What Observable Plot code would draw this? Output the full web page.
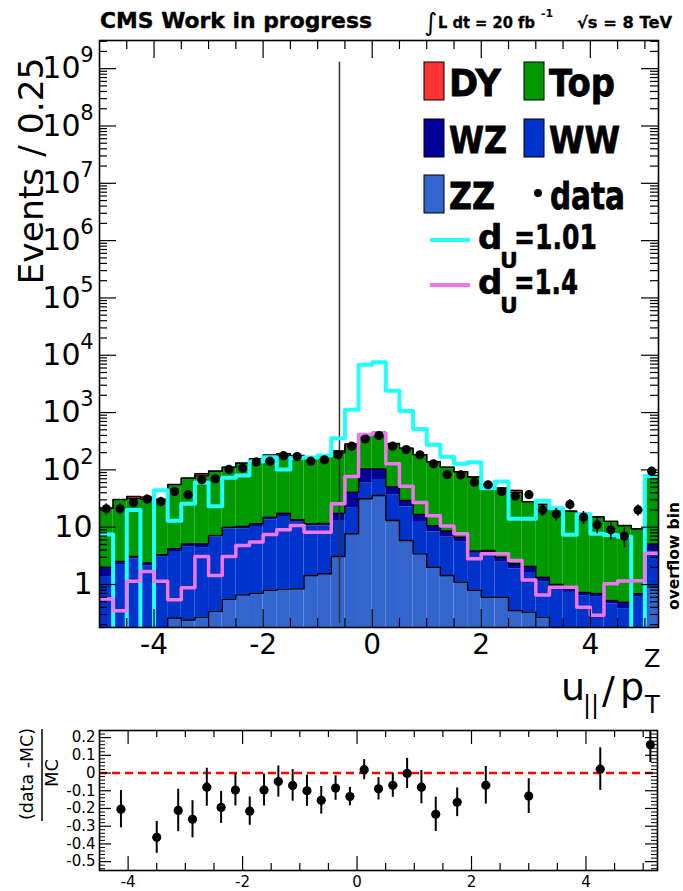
<!DOCTYPE html>
<html>
<head>
<meta charset="utf-8">
<script src="https://cdn.jsdelivr.net/npm/d3@7"></script>
<script src="https://cdn.jsdelivr.net/npm/@observablehq/plot@0.6"></script>
<style>
html,body{margin:0;padding:0;background:#fff;}
#chart{width:683px;height:891px;overflow:hidden;position:relative;}
#chart svg{display:block;}
</style>
</head>
<body>
<div id="chart"></div>
<script>
// ---------- data ----------
const binLow = [-5,-4.75,-4.5,-4.25,-4,-3.75,-3.5,-3.25,-3,-2.75,-2.5,-2.25,-2,-1.75,-1.5,-1.25,-1,-0.75,-0.5,-0.25,0,0.25,0.5,0.75,1,1.25,1.5,1.75,2,2.25,2.5,2.75,3,3.25,3.5,3.75,4,4.25,4.5,4.75,5];
const binWidth = 0.25;
const zz     = [0,0,0,0,0,0.26,0.24,0.27,0.34,0.55,0.66,0.70,0.79,0.83,0.84,1.44,1.54,3.08,7.67,31.3,35.7,13.1,5.86,3.43,2.0,1.44,1.1,0.79,0.6,0.6,0.35,0.33,0.27,0,0,0,0,0,0,0,0.9];
const ww     = [1.38,2.23,2.81,2.09,3.0,3.51,4.24,4.03,6.36,8.85,8.74,9.6,12.71,14.57,11.36,9.06,8.96,10.02,14.33,27.3,32.3,23.9,16.74,9.17,6.3,5.26,4.37,2.71,2.83,1.85,1.53,1.24,0.83,0.9,0.73,0.64,0.6,0.46,0.38,0.6,3.02];
const wz     = [0.62,0.29,0.27,0.30,0.3,0.43,0.65,0.83,0.5,0.6,0.9,1.2,1.5,2.1,1.3,0.9,1.1,4.5,19,45.4,36,13.5,6.6,4.1,2.3,1.9,1.23,0.36,0.49,0.55,0.42,0.49,0.24,0.1,0.11,0.09,0.1,0.07,0.11,0.09,1.18];
const topBkg = [19.5,27.9,28.6,28.4,27.1,51.4,66.5,73.8,87.7,101,120.7,144.5,166,158.8,164.5,156.6,170.4,179.9,220.2,323,346,237.5,208.8,168.3,128.4,102.4,86.3,71.1,52.1,45,38.3,25.9,23.7,20,18.2,16.6,14.5,12.1,10.2,8.7,74.9];
const dyBkg  = [0,0,2.6,2.6,0,0,0,6.6,0,0,0,0,0,14.7,0,0,0,16.5,21.8,0,0,0,0,0,0,0,0,0,0,0,3.4,0,0,0,0,0,0,0,0,0,0];
const dataN  = [21,21,27,31,28,42,37,67,70,102,107,138,142,177,171,142,150,184,259,345,398,259,226,183,128,83,82,61,55,42,35,37,20,17,25,15,11,9,7,20,95];
const sigDU101 = [7.5,0,20,0,44,13,25.6,60,23.3,73,80,140,167,102,163,165,178,355,1119,6830,7580,2400,1070,515,275,170,128,136,48,63,14,14,29,21.5,7.4,16.8,7.7,7.3,6.8,0,78];
const sigDU14  = [0.56,0.35,1.14,1.69,1.14,0.54,0.88,3.08,1.44,3.08,4.8,5.5,7.5,9.0,10.7,8.2,8.2,25.6,77,415,437,128,52,27,15.8,10.5,7.67,2.81,3.45,3.45,2.62,1.2,0.66,0.9,0.9,0.4,0.29,1.03,1.15,1.16,3.5];
const cutValue = -0.6;

const ratioX   = [-4.125,-3.5,-3.125,-2.875,-2.625,-2.375,-2.125,-1.875,-1.625,-1.375,-1.125,-0.875,-0.625,-0.375,-0.125,0.125,0.375,0.625,0.875,1.125,1.375,1.75,2.25,3.0,4.25,5.125];
const ratioY   = [-0.204,-0.363,-0.211,-0.261,-0.08,-0.194,-0.096,-0.215,-0.096,-0.048,-0.07,-0.10,-0.154,-0.085,-0.133,0.019,-0.089,-0.069,-0.002,-0.08,-0.233,-0.165,-0.069,-0.13,0.022,0.159];
const ratioErr = [0.105,0.09,0.12,0.105,0.107,0.09,0.09,0.08,0.09,0.088,0.089,0.088,0.078,0.069,0.052,0.057,0.063,0.068,0.085,0.094,0.097,0.081,0.106,0.098,0.12,0.10];

const xTickValues = [-4,-2,0,2,4];
const xTickLabels = ["-4","-2","0","2","4"];
const yTickValues = [1,10,1e2,1e3,1e4,1e5,1e6,1e7,1e8,1e9];
const yTickBase   = ["1","10","10","10","10","10","10","10","10","10"];
const yTickExp    = ["","","2","3","4","5","6","7","8","9"];
const rTickValues = [0.2,0.1,0,-0.1,-0.2,-0.3,-0.4,-0.5];
const rTickLabels = ["0.2","0.1","0","-0.1","-0.2","-0.3","-0.4","-0.5"];

const names  = ["DY","Top","WZ","WW","ZZ"];
const colors = {DY:"#ff3333", Top:"#009900", WZ:"#000099", WW:"#0033cc", ZZ:"#3366cc", sig1:"#22ffff", sig2:"#ee77ee"};

// ---------- helpers ----------
const FONT = "DejaVu Sans";
const FLOOR = 0.01;
const cum1 = zz.slice();
const cum2 = cum1.map((v,i)=>v+ww[i]);
const cum3 = cum2.map((v,i)=>v+wz[i]);
const cum4 = cum3.map((v,i)=>v+topBkg[i]);
const cum5 = cum4.map((v,i)=>v+dyBkg[i]);
const layers = [
  {lower: null, upper: cum1, fill: colors.ZZ},
  {lower: cum1, upper: cum2, fill: colors.WW},
  {lower: cum2, upper: cum3, fill: colors.WZ},
  {lower: cum3, upper: cum4, fill: colors.Top},
  {lower: cum4, upper: cum5, fill: colors.DY}
];
const rects = [];
layers.forEach(L => binLow.forEach((lo,i) => {
  const a = L.lower ? Math.max(L.lower[i], FLOOR) : FLOOR;
  const b = L.upper[i];
  if (b > a) rects.push({x1: lo, x2: lo + binWidth, y1: a, y2: b, fill: L.fill});
}));
function stepPts(vals){
  const p = [];
  vals.forEach((v,i) => { const y = Math.max(v, FLOOR); p.push({x: binLow[i], y}); p.push({x: binLow[i] + binWidth, y}); });
  return p;
}
const dataPts = dataN.map((n,i) => ({x: binLow[i] + binWidth/2, n, lo: n - Math.sqrt(n), hi: n + Math.sqrt(n)}));

const mainW = 683, mainH = 700, mL = 99, mR = 25, mT = 40, mB = 73;
const frameH = mainH - mT - mB;
const frameW = mainW - mL - mR;
const yMinor = [];
for (let e = -1; e <= 9; e++) for (let k = 2; k <= 9; k++) { const v = k * Math.pow(10, e); if (v > 0.178 && v < 3.1e9) yMinor.push(v); }
const xMinor = [-4.5,-3.5,-3,-2.5,-1.5,-1,-0.5,0.5,1,1.5,2.5,3,3.5,4.5,5];

const mainPlot = Plot.plot({
  width: mainW, height: mainH,
  marginLeft: mL, marginRight: mR, marginTop: mT, marginBottom: mB,
  style: {fontFamily: FONT, background: "white", overflow: "visible"},
  x: {domain: [-5, 5.25], axis: null},
  y: {type: "log", domain: [0.178, 3.1e9], axis: null},
  marks: [
    Plot.rect(rects, {x1: "x1", x2: "x2", y1: "y1", y2: "y2", fill: d => d.fill, clip: true}),
    Plot.line(stepPts(cum1), {x: "x", y: "y", stroke: "black", strokeWidth: 1.4, clip: true}),
    Plot.line(stepPts(cum3), {x: "x", y: "y", stroke: "black", strokeWidth: 1.4, clip: true}),
    Plot.line(stepPts(cum4), {x: "x", y: "y", stroke: "black", strokeWidth: 1.2, clip: true}),
    Plot.line(stepPts(cum5), {x: "x", y: "y", stroke: "black", strokeWidth: 1.4, clip: true}),
    Plot.ruleX([cutValue], {x: d => d, y1: 0.21, y2: 1.3e9, stroke: "#333", strokeWidth: 1.5}),
    Plot.line(stepPts(sigDU101), {x: "x", y: "y", stroke: colors.sig1, strokeWidth: 4, clip: true}),
    Plot.line(stepPts(sigDU14), {x: "x", y: "y", stroke: colors.sig2, strokeWidth: 3.5, clip: true}),
    Plot.ruleX(dataPts, {x: "x", y1: "lo", y2: "hi", stroke: "black", strokeWidth: 1.5, clip: true}),
    Plot.dot(dataPts, {x: "x", y: "n", r: 4.6, fill: "black", stroke: null, clip: true}),
    // ticks
    Plot.tickX(xTickValues, {x: d => d, insetTop: frameH - 18, stroke: "black", strokeWidth: 1.2}),
    Plot.tickX(xTickValues, {x: d => d, insetBottom: frameH - 18, stroke: "black", strokeWidth: 1.2}),
    Plot.tickX(xMinor, {x: d => d, insetTop: frameH - 9, stroke: "black", strokeWidth: 1.2}),
    Plot.tickX(xMinor, {x: d => d, insetBottom: frameH - 9, stroke: "black", strokeWidth: 1.2}),
    Plot.tickY(yTickValues, {y: d => d, insetRight: frameW - 17, stroke: "black", strokeWidth: 1.2}),
    Plot.tickY(yTickValues, {y: d => d, insetLeft: frameW - 17, stroke: "black", strokeWidth: 1.2}),
    Plot.tickY(yMinor, {y: d => d, insetRight: frameW - 8, stroke: "black", strokeWidth: 1.2}),
    Plot.tickY(yMinor, {y: d => d, insetLeft: frameW - 8, stroke: "black", strokeWidth: 1.2}),
    Plot.frame({stroke: "black", strokeWidth: 1.6}),
    // tick labels
    Plot.text(xTickValues, {x: d => d, y: 0.178, text: (d,i) => xTickLabels[i], dy: 18, lineAnchor: "middle", fontSize: 28, fill: "black"}),
    Plot.text(yTickValues.slice(0,2), {x: -5, y: d => d, text: (d,i) => yTickBase[i], textAnchor: "end", dx: -7, lineAnchor: "middle", fontSize: 30, fill: "black"}),
    Plot.text(yTickValues.slice(2), {x: -5, y: d => d, text: (d,i) => yTickBase[i+2], textAnchor: "end", dx: -19, lineAnchor: "middle", fontSize: 30, fill: "black"}),
    Plot.text(yTickValues.slice(2), {x: -5, y: d => d, text: (d,i) => yTickExp[i+2], textAnchor: "end", dx: -6, dy: -13, lineAnchor: "middle", fontSize: 21, fill: "black"})
  ]
});

const rW = 683, rH = 191, rL = 99, rR = 26, rT = 30, rB = 21;
const rFrameH = rH - rT - rB, rFrameW = rW - rL - rR;
const rYMinor = d3.range(-0.54, 0.2401, 0.02).map(v => Math.round(v*100)/100).filter(v => Math.abs(Math.round(v*10) - v*10) > 1e-6);
const rXMinor = [-4.5,-3.5,-3,-2.5,-1.5,-1,-0.5,0.5,1,1.5,2.5,3,3.5,4.5,5];
const rIdx = ratioX.map((d,i) => i);

const ratioPlot = Plot.plot({
  width: rW, height: rH,
  marginLeft: rL, marginRight: rR, marginTop: rT, marginBottom: rB,
  style: {fontFamily: FONT, background: "white", overflow: "visible"},
  x: {domain: [-4.5, 5.25], axis: null},
  y: {domain: [-0.55, 0.24], axis: null},
  marks: [
    Plot.ruleY([0], {stroke: "#ff0000", strokeWidth: 2.5, strokeDasharray: "8,5"}),
    Plot.ruleX(rIdx, {x: i => ratioX[i], y1: i => ratioY[i] - ratioErr[i], y2: i => ratioY[i] + ratioErr[i], stroke: "black", strokeWidth: 2, clip: true}),
    Plot.dot(rIdx, {x: i => ratioX[i], y: i => ratioY[i], r: 4.6, fill: "black", stroke: null, clip: true}),
    Plot.tickX(xTickValues, {x: d => d, insetTop: rFrameH - 14, stroke: "black", strokeWidth: 1.2}),
    Plot.tickX(xTickValues, {x: d => d, insetBottom: rFrameH - 14, stroke: "black", strokeWidth: 1.2}),
    Plot.tickX(rXMinor, {x: d => d, insetTop: rFrameH - 7, stroke: "black", strokeWidth: 1.2}),
    Plot.tickX(rXMinor, {x: d => d, insetBottom: rFrameH - 7, stroke: "black", strokeWidth: 1.2}),
    Plot.tickY(rTickValues, {y: d => d, insetRight: rFrameW - 12, stroke: "black", strokeWidth: 1.2}),
    Plot.tickY(rTickValues, {y: d => d, insetLeft: rFrameW - 12, stroke: "black", strokeWidth: 1.2}),
    Plot.tickY(rYMinor, {y: d => d, insetRight: rFrameW - 6, stroke: "black", strokeWidth: 1}),
    Plot.tickY(rYMinor, {y: d => d, insetLeft: rFrameW - 6, stroke: "black", strokeWidth: 1}),
    Plot.frame({stroke: "black", strokeWidth: 1.6}),
    Plot.text(xTickValues, {x: d => d, y: -0.55, text: (d,i) => xTickLabels[i], dy: 12, lineAnchor: "middle", fontSize: 15, fill: "black"}),
    Plot.text(rTickValues, {x: -4.5, y: d => d, text: (d,i) => rTickLabels[i], textAnchor: "end", dx: -4, lineAnchor: "middle", fontSize: 15, fill: "black"})
  ]
});

const chart = document.getElementById("chart");
chart.appendChild(mainPlot);
chart.appendChild(ratioPlot);

function addText(svg, o){
  const t = d3.select(svg).append("text")
    .attr("x", o.x).attr("y", o.y)
    .attr("font-family", FONT).attr("font-size", o.size)
    .attr("font-weight", o.weight || "normal")
    .attr("text-anchor", o.anchor || "start")
    .attr("fill", o.fill || "black");
  if (o.stroke) t.attr("stroke", "black").attr("stroke-width", o.stroke);
  if (o.rotate) t.attr("transform", `rotate(${o.rotate},${o.x},${o.y})`);
  if (o.len) t.attr("textLength", o.len).attr("lengthAdjust", "spacingAndGlyphs");
  t.text(o.text);
  return t;
}

// ---- main plot annotations ----
addText(mainPlot, {x: 100, y: 28, text: "CMS Work in progress", size: 22, weight: "bold", len: 272, stroke: 0.4});
addText(mainPlot, {x: 424, y: 31, text: "\u222B", size: 25, weight: "normal"});
addText(mainPlot, {x: 438, y: 28, text: "L dt = 20 fb", size: 16, weight: "bold", len: 97, stroke: 0.3});
addText(mainPlot, {x: 541, y: 17, text: "-1", size: 11, weight: "bold"});
addText(mainPlot, {x: 577, y: 28, text: "\u221As = 8 TeV", size: 16, weight: "bold", len: 95, stroke: 0.3});
addText(mainPlot, {x: 43, y: 171, text: "Events / 0.25", size: 34, rotate: -90, anchor: "middle", len: 227});
addText(mainPlot, {x: 679, y: 556, text: "overflow bin", size: 15, weight: "bold", rotate: -90, anchor: "middle", len: 108});
// x axis title u_|| / p_T^Z
addText(mainPlot, {x: 561, y: 700, text: "u", size: 38});
addText(mainPlot, {x: 583, y: 713, text: "||", size: 24});
addText(mainPlot, {x: 602, y: 703, text: "/", size: 38});
addText(mainPlot, {x: 620, y: 700, text: "p", size: 38});
addText(mainPlot, {x: 644, y: 667, text: "Z", size: 24});
addText(mainPlot, {x: 645, y: 713, text: "T", size: 24});

// legend
const lg = d3.select(mainPlot).append("g");
const legendBoxes = [
  {name: names[0], x: 424, y: 62, fill: colors.DY,  tx: 449, tlen: 52},
  {name: names[1], x: 524, y: 62, fill: colors.Top, tx: 549, tlen: 66},
  {name: names[2], x: 424, y: 119, fill: colors.WZ, tx: 449, tlen: 58},
  {name: names[3], x: 524, y: 119, fill: colors.WW, tx: 549, tlen: 71},
  {name: names[4], x: 424, y: 175, fill: colors.ZZ, tx: 449, tlen: 46}
];
legendBoxes.forEach(b => {
  lg.append("rect").attr("x", b.x).attr("y", b.y).attr("width", 20).attr("height", 38)
    .attr("fill", b.fill).attr("stroke", "black").attr("stroke-width", 1);
  addText(mainPlot, {x: b.tx, y: b.y + 34, text: b.name, size: 38, weight: "bold", len: b.tlen, stroke: 0.8});
});
lg.append("circle").attr("cx", 538).attr("cy", 193).attr("r", 4).attr("fill", "black");
addText(mainPlot, {x: 550, y: 209, text: "data", size: 38, weight: "bold", len: 75, stroke: 0.8});
lg.append("line").attr("x1", 430).attr("x2", 470).attr("y1", 240).attr("y2", 240).attr("stroke", colors.sig1).attr("stroke-width", 4);
lg.append("line").attr("x1", 430).attr("x2", 470).attr("y1", 285).attr("y2", 285).attr("stroke", colors.sig2).attr("stroke-width", 4);
addText(mainPlot, {x: 478, y: 249, text: "d", size: 34, weight: "bold", stroke: 0.6});
addText(mainPlot, {x: 500, y: 268, text: "U", size: 22, weight: "bold", stroke: 0.4});
addText(mainPlot, {x: 514, y: 249, text: "=1.01", size: 34, weight: "bold", len: 83, stroke: 0.6});
addText(mainPlot, {x: 478, y: 294, text: "d", size: 34, weight: "bold", stroke: 0.6});
addText(mainPlot, {x: 500, y: 313, text: "U", size: 22, weight: "bold", stroke: 0.4});
addText(mainPlot, {x: 514, y: 294, text: "=1.4", size: 34, weight: "bold", len: 64, stroke: 0.6});

// ---- ratio plot annotations ----
addText(ratioPlot, {x: 33, y: 74, text: "(data -MC)", size: 18, rotate: -90, anchor: "middle", len: 92});
d3.select(ratioPlot).append("line").attr("x1", 42).attr("x2", 42).attr("y1", 29).attr("y2", 121).attr("stroke", "black").attr("stroke-width", 1.5);
addText(ratioPlot, {x: 58, y: 73, text: "MC", size: 18, rotate: -90, anchor: "middle"});
</script>
</body>
</html>
